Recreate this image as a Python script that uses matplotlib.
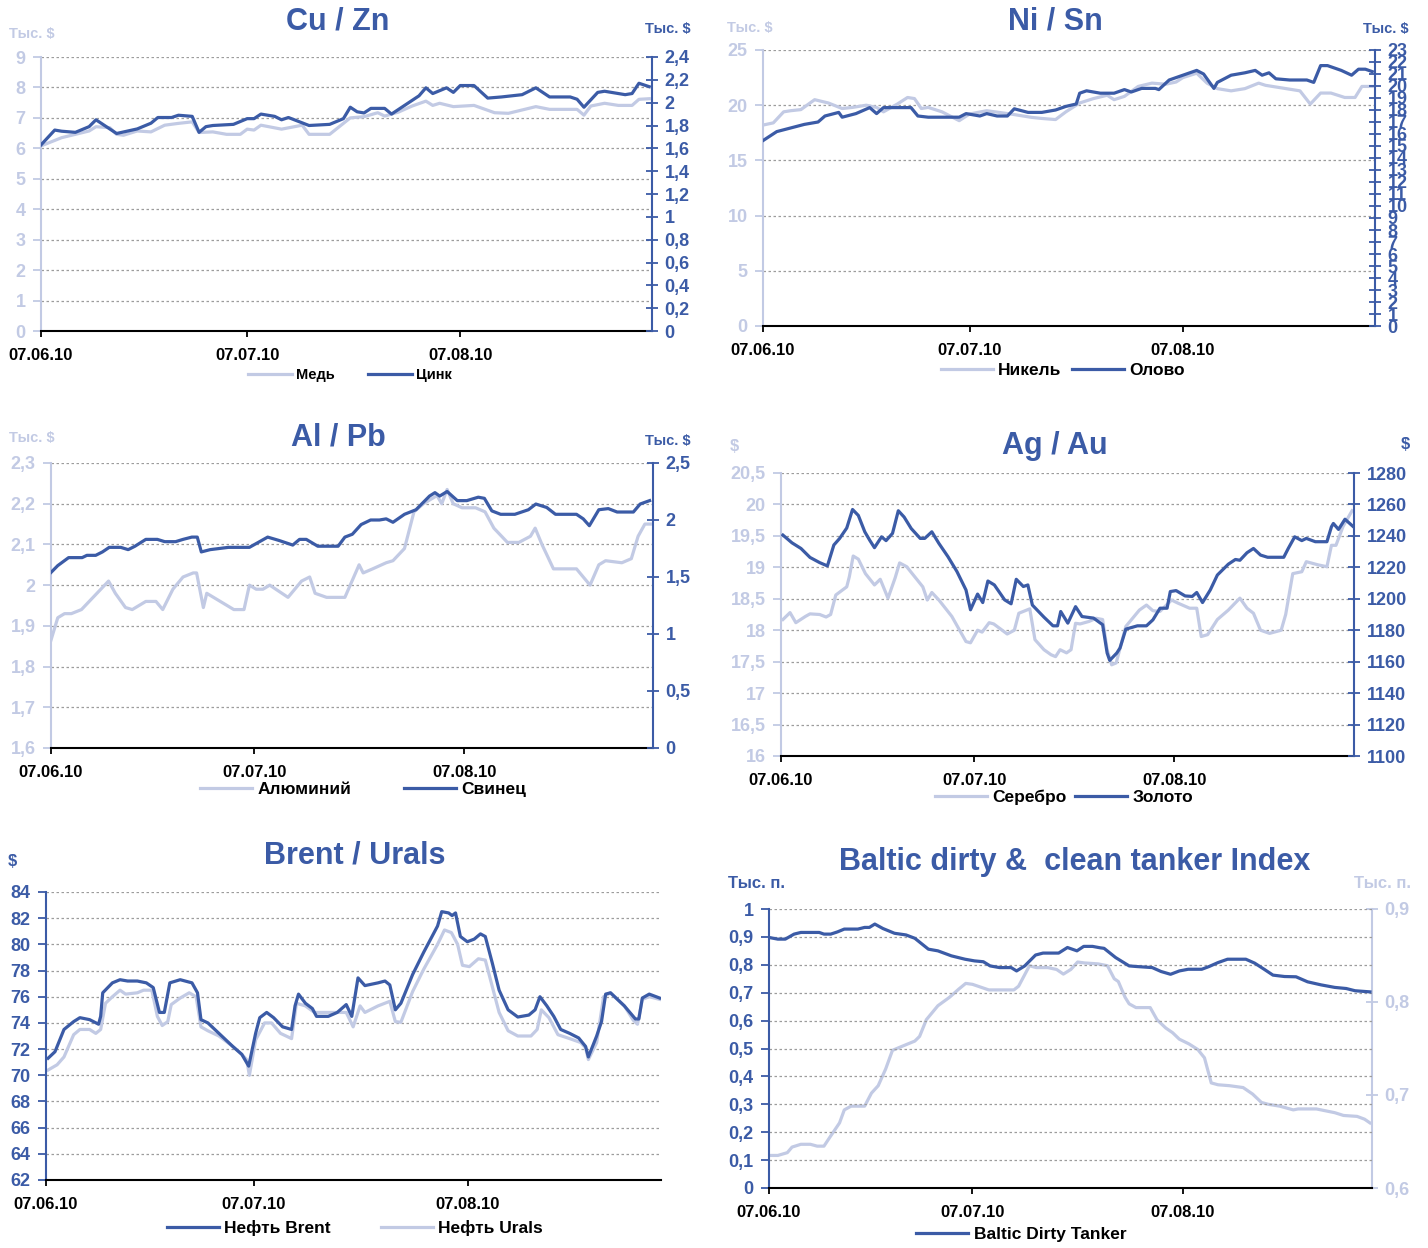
"""
Metals, oil and tanker index dashboard (07.06.10 - 03.09.10)
Six small dual-axis line charts in one figure
"""

import pandas as pd
import matplotlib
matplotlib.use('Agg')
import matplotlib.pyplot as plt
import matplotlib.dates as mdates
from matplotlib.ticker import FuncFormatter

plt.rcParams['font.family'] = ['Liberation Sans', 'DejaVu Sans']
plt.rcParams['font.weight'] = 'bold'

DARK = '#3b5ba6'
LIGHT = '#c2cae4'
GRID = '#9c9c9c'
W, H = 1428, 1248

START = pd.Timestamp('2010-06-07')
TICK_DATES = ['2010-06-07', '2010-07-07', '2010-08-07']

# ---- Cu / Zn (thousand $), days since 07.06.10 ----
cu_days = [0, 3, 5, 7, 8, 10, 11, 12, 14, 16, 18, 20, 22, 23, 25, 27, 29, 30, 31, 32,
           35, 38, 39, 42, 45, 47, 49, 50, 52, 54, 56, 57, 58, 60, 63, 66, 68, 72, 74, 78,
           79, 80, 82, 84, 86, 87, 88.5]
cu = [6.08, 6.35, 6.46, 6.57, 6.71, 6.68, 6.46, 6.43, 6.57, 6.54, 6.76, 6.82, 6.87, 6.52, 6.54,
      6.46, 6.46, 6.63, 6.60, 6.76, 6.63, 6.76, 6.46, 6.46, 7.0, 7.04, 7.17, 7.06, 7.19, 7.39,
      7.55, 7.41, 7.48, 7.37, 7.41, 7.17, 7.15, 7.37, 7.28, 7.28, 7.09, 7.39, 7.48, 7.41, 7.41,
      7.61, 7.63]
zn_days = [0, 2, 3, 5, 7, 8, 10, 11, 14, 16, 17, 19, 20, 22, 23, 24, 25, 28, 30, 31,
           32, 34, 35, 36, 39, 42, 44, 45, 46, 47, 48, 50, 51, 53, 55, 56, 57, 59, 60, 61,
           63, 65, 67, 70, 72, 74, 77, 78, 79, 81, 82, 85, 86, 87, 88.5]
zn = [1.63, 1.76, 1.75, 1.74, 1.79, 1.85, 1.77, 1.73, 1.77, 1.82, 1.87, 1.87, 1.89, 1.88, 1.74,
      1.79, 1.80, 1.81, 1.86, 1.86, 1.90, 1.88, 1.85, 1.87, 1.80, 1.81, 1.86, 1.96, 1.92, 1.91,
      1.95, 1.95, 1.90, 1.98, 2.06, 2.13, 2.08, 2.13, 2.09, 2.15, 2.15, 2.04, 2.05, 2.07, 2.13,
      2.05, 2.05, 2.03, 1.96, 2.09, 2.10, 2.07, 2.08, 2.17, 2.14]

# ---- Ni / Sn (thousand $) ----
ni_days = [0, 1.5, 3, 4, 5.5, 7.5, 9.5, 11.5, 13, 15, 16.5, 17.5, 19.5, 21, 22, 23, 24, 26,
           28.5, 30, 32.5, 36, 39, 40.5, 42.5, 44, 46, 48, 50, 51, 52.5, 54.5, 56.5, 58.5, 60,
           61, 63, 64.5, 66, 68, 70, 72, 73, 75, 78, 79.5, 81, 82.5, 84.5, 86, 87, 88.5]
ni = [18.2, 18.4, 19.4, 19.5, 19.6, 20.5, 20.2, 19.7, 19.8, 20.0, 19.8, 19.4, 20.1, 20.7, 20.6,
      19.7, 19.8, 19.4, 18.6, 19.2, 19.5, 19.2, 18.9, 18.8, 18.7, 19.4, 20.2, 20.6, 20.9, 20.5,
      20.8, 21.7, 22.0, 21.9, 22.1, 22.5, 22.9, 22.0, 21.5, 21.3, 21.5, 22.0, 21.8, 21.6, 21.3,
      20.1, 21.1, 21.1, 20.7, 20.7, 21.7, 21.7]
sn_days = [0, 2, 4, 6, 8, 9, 11, 11.5, 13.5, 15.5, 16.5, 17.5, 21.5, 22.5, 24, 28.5, 29.5,
           31.5, 32.5, 34, 35.5, 36.5, 38.5, 40.5, 42.5, 44, 45.5, 46, 47, 49, 51, 52.5, 53.5,
           55, 57, 57.5, 59, 61, 63, 64, 65.5, 66, 68, 70, 71.5, 72.5, 73.5, 74.5, 76.5, 79,
           80, 81, 82, 84, 85.5, 86.5, 87.5, 88.5]
sn = [15.45, 16.2, 16.5, 16.8, 17.0, 17.5, 17.8, 17.4, 17.7, 18.2, 17.7, 18.2, 18.2, 17.5, 17.4,
      17.4, 17.7, 17.5, 17.7, 17.5, 17.5, 18.1, 17.8, 17.8, 18.0, 18.3, 18.5, 19.4, 19.6, 19.4,
      19.4, 19.7, 19.5, 19.8, 19.8, 19.7, 20.5, 20.9, 21.3, 21.0, 19.8, 20.3, 20.9, 21.1, 21.3,
      20.9, 21.1, 20.6, 20.5, 20.5, 20.3, 21.7, 21.7, 21.3, 20.9, 21.4, 21.4, 21.2]

# ---- Al / Pb (thousand $) ----
al_days = [0, 1, 2, 3, 4.5, 8.5, 9.5, 11, 12, 14, 15.5, 16.5, 18, 19.5, 21, 21.5, 22.5, 23,
           25, 27, 28.5, 29.3, 30.3, 31.3, 32.3, 35, 37, 38.2, 39, 40.7, 43.4, 45.5, 46.1,
           47.5, 49.5, 50.5, 52.2, 53.6, 55, 57, 57.7, 58.5, 59.4, 60.7, 62.7, 64.1, 65.4,
           67.4, 69.1, 70.8, 71.5, 72.5, 74.2, 77.6, 79.6, 80.9, 81.9, 84.3, 85.7, 86.7, 87.7, 88.5]
al = [1.865, 1.92, 1.93, 1.93, 1.94, 2.01, 1.98, 1.945, 1.94, 1.96, 1.96, 1.94, 1.99, 2.02,
      2.03, 2.03, 1.945, 1.98, 1.96, 1.94, 1.94, 2.0, 1.99, 1.99, 2.0, 1.97, 2.01, 2.02, 1.98,
      1.97, 1.97, 2.05, 2.03, 2.04, 2.055, 2.06, 2.09, 2.18, 2.2, 2.22, 2.20, 2.235, 2.2, 2.19,
      2.19, 2.18, 2.14, 2.105, 2.105, 2.12, 2.14, 2.10, 2.04, 2.04, 2.0, 2.05, 2.06, 2.055,
      2.065, 2.12, 2.15, 2.15]
pb_days = [0, 1, 2.6, 4.6, 5.3, 6.6, 7.6, 8.6, 10.3, 11.4, 12.4, 14, 15.7, 16.8, 18.4, 19.5,
           20.8, 21.6, 22.2, 23.5, 26.2, 29.3, 32, 33.7, 35.7, 36.7, 37.7, 39.4, 42.4, 43.4,
           44.5, 45.8, 47.2, 48.5, 49.5, 50.5, 52.2, 53.9, 55.9, 56.7, 57.4, 58.5, 60, 61.4,
           63.1, 64, 65.1, 66.4, 68.5, 70.5, 71.6, 73.2, 74.5, 77.6, 78.6, 79.5, 80.9, 82.3,
           83.6, 86, 87, 88.4]
pb = [1.54, 1.60, 1.67, 1.67, 1.69, 1.69, 1.72, 1.76, 1.76, 1.74, 1.77, 1.83, 1.83, 1.81,
      1.81, 1.83, 1.85, 1.85, 1.72, 1.74, 1.76, 1.76, 1.85, 1.82, 1.78, 1.83, 1.83, 1.77, 1.77,
      1.85, 1.875, 1.96, 2.0, 2.0, 2.01, 1.98, 2.05, 2.09, 2.21, 2.24, 2.21, 2.25, 2.17, 2.17,
      2.20, 2.19, 2.08, 2.05, 2.05, 2.09, 2.14, 2.11, 2.05, 2.05, 2.01, 1.95, 2.09, 2.10, 2.07,
      2.07, 2.14, 2.17]

# ---- Ag / Au ($) ----
ag_days = [0.3, 1.4, 2.3, 3.8, 4.5, 6, 7, 7.7, 8.5, 10.2, 10.6, 11.2, 12, 13.1, 14.5, 15.4,
           16.6, 17.7, 18.4, 19.5, 22, 22.7, 23.4, 24.5, 26.5, 28.7, 29.4, 30.5, 31.2, 32.3,
           33, 35.1, 36.2, 36.9, 38.6, 39.4, 40.8, 41.9, 42.6, 43.3, 44.3, 45, 45.7, 46.4,
           47.8, 48.9, 49.9, 50.6, 51.3, 52, 53.5, 55.6, 56.7, 57.7, 58.8, 59.9, 60.6, 61.6,
           63.4, 64.5, 65.2, 66.2, 67.7, 69.4, 71.2, 72.3, 73.3, 74.4, 75.8, 77.6, 78.3, 79.4,
           80.8, 81.5, 83.3, 84.7, 85.4, 86.1, 87.2, 88.6]
ag = [18.17, 18.28, 18.12, 18.22, 18.26, 18.25, 18.21, 18.25, 18.56, 18.69, 18.85, 19.18,
      19.13, 18.9, 18.72, 18.81, 18.51, 18.83, 19.07, 19.01, 18.69, 18.48, 18.6, 18.48, 18.22,
      17.82, 17.8, 18.0, 17.97, 18.12, 18.1, 17.94, 18.0, 18.27, 18.34, 17.85, 17.69, 17.61,
      17.58, 17.69, 17.64, 17.69, 18.11, 18.1, 18.14, 18.19, 18.17, 17.69, 17.45, 17.48, 18.06,
      18.32, 18.4, 18.31, 18.3, 18.41, 18.48, 18.43, 18.35, 18.35, 17.9, 17.93, 18.17, 18.32,
      18.51, 18.35, 18.27, 18.0, 17.95, 18.0, 18.25, 18.9, 18.93, 19.09, 19.04, 19.01, 19.35,
      19.35, 19.65, 19.9]
au_days = [0.3, 1.7, 3.1, 4.5, 6, 7.2, 8.2, 9.1, 10.2, 11.1, 12, 13, 13.8, 14.5, 15.6, 16.3,
           17.3, 18.2, 19.1, 20.2, 21.6, 22.3, 23.4, 24.5, 25.9, 27.3, 28.7, 29.4, 30.5, 31.3,
           32.1, 33.1, 34.7, 35.7, 36.5, 37.6, 38.3, 39, 40.8, 42.2, 42.9, 43.4, 44.5, 45.7,
           46.7, 48.5, 49.9, 50.6, 51, 52.1, 52.6, 53.5, 55.3, 56.7, 57.7, 58.8, 59.9, 60.4,
           61.3, 62.7, 63.8, 64.5, 65.4, 66.6, 67.7, 69.4, 70.5, 71.2, 72.3, 73.3, 74.4, 75.5,
           78, 78.7, 79.7, 80.8, 81.5, 82.9, 84.7, 85.4, 85.7, 86.5, 87.5, 88.7]
au = [1240.5, 1235.6, 1232, 1226.3, 1223, 1220.9, 1234.2, 1238.4, 1245, 1256.8, 1253, 1242.6,
      1237, 1232.5, 1239.4, 1237, 1241.6, 1256, 1252, 1244.7, 1238.4, 1238.4, 1242.6, 1235.2,
      1226.8, 1217.3, 1205.6, 1193, 1203, 1197.6, 1211.3, 1208.8, 1199.3, 1196.8, 1212.4,
      1207.8, 1208.8, 1196, 1188.3, 1182.8, 1182.8, 1191.9, 1184.5, 1195, 1188.7, 1187.7,
      1183.5, 1165.5, 1160.8, 1165.5, 1168.7, 1180.7, 1182.8, 1182.8, 1186.6, 1194, 1194,
      1204.6, 1205.2, 1201.8, 1201.5, 1204, 1197.6, 1205.6, 1215.1, 1222, 1225, 1224.5,
      1229.3, 1232, 1227.8, 1226.4, 1226.4, 1232, 1239.4, 1237, 1238.4, 1236.3, 1236.3,
      1245.8, 1247.9, 1244.1, 1250.6, 1246.2]

# ---- Brent / Urals ($) ----
brent_days = [0.3, 1.3, 2.6, 4, 4.9, 6.3, 7.6, 7.9, 8.2, 9.6, 10.7, 11.8, 13.2, 14.5, 15.5,
              16.4, 17.1, 17.9, 19.4, 21.1, 21.9, 22.4, 23.4, 25, 27, 28.3, 29.3, 30.3, 30.9,
              31.9, 32.9, 34.2, 35.5, 36, 36.5, 37.5, 38.5, 39.1, 40.8, 42.1, 43.4, 44.2, 45.1,
              46.1, 48, 49, 49.7, 50.5, 51.3, 53, 54.6, 56.6, 57.2, 58.2, 58.7, 59.2, 59.9,
              60.9, 61.9, 62.8, 63.5, 64.5, 65.5, 66.8, 68.2, 69.8, 70.7, 71.4, 72.4, 73.4,
              74.4, 75.7, 77, 78, 78.4, 79.6, 80.3, 80.9, 81.6, 83.6, 85.2, 85.7, 86.2, 87.2, 88.7]
brent = [71.3, 71.8, 73.5, 74.1, 74.4, 74.25, 73.9, 74.5, 76.3, 77.06, 77.3, 77.2, 77.2, 77.06,
         76.7, 74.8, 74.8, 77.06, 77.3, 77.06, 76.3, 74.25, 74.0, 73.2, 72.2, 71.6, 70.7, 73.2,
         74.4, 74.8, 74.4, 73.7, 73.5, 75.3, 76.2, 75.5, 75.1, 74.5, 74.5, 74.8, 75.4, 74.5,
         77.44, 76.85, 77.06, 77.2, 76.9, 75.0, 75.5, 77.7, 79.4, 81.4, 82.5, 82.4, 82.2, 82.4,
         80.6, 80.2, 80.4, 80.8, 80.6, 78.6, 76.5, 75.0, 74.45, 74.6, 75.0, 76.0, 75.3, 74.5,
         73.5, 73.2, 72.85, 72.2, 71.4, 73.0, 74.1, 76.2, 76.3, 75.3, 74.3, 74.3, 75.9, 76.2, 75.9]
urals_days = [0.3, 1.6, 2.6, 4, 4.9, 6.3, 7.2, 7.9, 8.6, 9.6, 10.7, 11.5, 13.2, 14.1, 15.3,
              16.1, 16.8, 17.6, 18.1, 19.4, 20.7, 21.7, 22.4, 23.4, 25, 27, 28.3, 29, 29.4,
              30.3, 31.6, 32.6, 33.9, 35.5, 36.2, 37.5, 38.8, 43.4, 44.4, 45.4, 46.1, 48, 49.7,
              50.5, 51.3, 53, 54.6, 56.6, 57.6, 58.6, 59.5, 60.2, 61.2, 62.5, 63.5, 64.5, 65.5,
              66.8, 68.2, 70.1, 71, 71.6, 72.7, 74, 75.7, 77.3, 78, 78.4, 79.6, 80.6, 81.6,
              83.6, 84.9, 85.5, 86.2, 87.2, 88.7]
urals = [70.4, 70.8, 71.4, 73.1, 73.5, 73.5, 73.2, 73.5, 75.5, 76.0, 76.5, 76.2, 76.3, 76.5,
         76.5, 74.5, 73.8, 74.1, 75.4, 75.9, 76.3, 76.0, 73.7, 73.4, 73.0, 72.2, 71.6, 71.2,
         70.0, 72.7, 74.0, 74.0, 73.2, 72.8, 75.5, 75.3, 74.8, 74.8, 73.7, 75.3, 74.8, 75.3,
         75.65, 74.1, 74.05, 76.4, 78.1, 80.0, 81.1, 80.9, 80.0, 78.4, 78.3, 78.9, 78.8, 76.8,
         74.8, 73.4, 73.0, 73.0, 73.5, 75.0, 74.4, 73.1, 72.8, 72.5, 72.1, 71.2, 72.5, 76.0,
         76.3, 75.3, 74.2, 73.9, 75.8, 76.0, 75.8]

# ---- Baltic dirty / clean tanker index (thousand points) ----
dirty_days = [0, 1.3, 2.4, 3.7, 4.7, 7.4, 8.1, 9.1, 10.1, 11.1, 13.1, 14.1, 14.8, 15.6, 16.8,
              18.5, 20.2, 21.5, 23.5, 24.9, 26.9, 28.9, 30.3, 31.6, 32.6, 34, 35.7, 36.5, 37.7,
              39.3, 40.4, 42.7, 44, 45.4, 46.4, 47.7, 48.8, 49.4, 51.1, 53.1, 54.1, 56.5, 57.8,
              59.2, 60.5, 61.8, 63.8, 64.9, 66.2, 67.6, 70.3, 71.6, 73, 74.3, 76, 77.7, 79.4,
              81.4, 83.4, 85.1, 86.4, 88.6]
dirty = [0.898, 0.892, 0.892, 0.91, 0.916, 0.916, 0.91, 0.91, 0.918, 0.928, 0.928, 0.934, 0.934,
         0.946, 0.93, 0.913, 0.907, 0.895, 0.856, 0.85, 0.832, 0.82, 0.814, 0.811, 0.796, 0.79,
         0.79, 0.778, 0.796, 0.835, 0.842, 0.842, 0.862, 0.85, 0.866, 0.866, 0.861, 0.859, 0.826,
         0.796, 0.794, 0.79, 0.776, 0.766, 0.778, 0.784, 0.784, 0.794, 0.808, 0.82, 0.82, 0.806,
         0.784, 0.763, 0.758, 0.757, 0.739, 0.728, 0.719, 0.715, 0.707, 0.703]
clean_days = [0, 1.3, 2.7, 3.4, 4.7, 6.1, 7.1, 8.1, 9.1, 10.4, 11.1, 12.1, 14.1, 15.1, 16.1,
              17.2, 18.2, 19.5, 21.5, 22.2, 23.2, 24.9, 26.6, 28, 29, 30, 32.4, 36.1, 36.8,
              38.4, 39.4, 41.1, 42.4, 43.4, 44.5, 45.5, 46.5, 48.5, 49.9, 50.9, 51.5, 52.5,
              53.1, 54.1, 56.2, 57.2, 58.5, 59.5, 60.5, 61.9, 63.2, 64.2, 65.2, 66.2, 67.9,
              69.9, 71.3, 72.6, 73.6, 75.3, 77.3, 78, 80.7, 83.4, 84.7, 86.7, 87.8, 88.6]
clean = [0.635, 0.635, 0.638, 0.644, 0.647, 0.647, 0.645, 0.645, 0.656, 0.670, 0.684, 0.688,
         0.688, 0.702, 0.71, 0.728, 0.748, 0.752, 0.758, 0.763, 0.781, 0.796, 0.805, 0.814, 0.82,
         0.819, 0.813, 0.813, 0.817, 0.839, 0.837, 0.837, 0.835, 0.83, 0.835, 0.843, 0.842,
         0.841, 0.839, 0.825, 0.822, 0.805, 0.798, 0.794, 0.794, 0.781, 0.772, 0.767, 0.76,
         0.755, 0.749, 0.74, 0.713, 0.711, 0.71, 0.708, 0.701, 0.692, 0.69, 0.688, 0.684, 0.685,
         0.685, 0.681, 0.678, 0.677, 0.674, 0.670]


def dates(days):
    return START + pd.to_timedelta(days, unit='D')


def px(x, y):
    """pixel position -> figure fraction"""
    return x / W, 1 - y / H


def add_axes(fig, l, t, r, b):
    return fig.add_axes([l / W, 1 - b / H, (r - l) / W, (b - t) / H])


comma = FuncFormatter(lambda v, p: f'{round(v, 3):g}'.replace('.', ','))


def frange(lo, hi, step):
    n = int(round((hi - lo) / step))
    return [lo + i * step for i in range(n + 1)]


def setup_left(ax, color, lo, hi, step):
    ax.set_xlim(START, START + pd.Timedelta(days=88.9))
    ax.set_ylim(lo, hi)
    ax.set_yticks(frange(lo, hi, step))
    ax.yaxis.set_major_formatter(comma)
    ax.grid(axis='y', color=GRID, linestyle=(0, (2, 2)), linewidth=0.9)
    ax.set_axisbelow(True)
    for s in ['top', 'right']:
        ax.spines[s].set_visible(False)
    ax.spines['left'].set_color(color)
    ax.spines['left'].set_linewidth(1.5)
    ax.spines['bottom'].set_color('black')
    ax.spines['bottom'].set_linewidth(1.5)
    ax.tick_params(axis='y', colors=color, labelsize=13, length=6, width=1.3, pad=5)
    ax.set_xticks(pd.to_datetime(TICK_DATES))
    ax.xaxis.set_major_formatter(mdates.DateFormatter('%d.%m.%y'))
    ax.tick_params(axis='x', labelsize=12, length=4, width=1.3, pad=8,
                   color='black', labelcolor='black')


def setup_right(ax, color, lo, hi, step):
    ax2 = ax.twinx()
    ax2.set_ylim(lo, hi)
    ax2.set_yticks(frange(lo, hi, step))
    ax2.yaxis.set_major_formatter(comma)
    for s in ['top', 'left', 'bottom']:
        ax2.spines[s].set_visible(False)
    ax2.spines['right'].set_color(color)
    ax2.spines['right'].set_linewidth(1.5)
    ax2.tick_params(axis='y', colors=color, labelsize=13, length=8, width=1.3,
                    direction='inout', pad=5)
    return ax2


def label(fig, x, y, text, color, size=10.5):
    fig.text(*px(x, y), text, color=color, fontsize=size, ha='center', va='center',
             fontweight='bold')


def title(fig, x, y, text):
    fig.text(*px(x, y), text, color=DARK, fontsize=22, ha='center', va='center',
             fontweight='bold')


def legend(fig, handles, x, y, size=12.5, colsp=1.0, ncol=2, loc='center'):
    fig.legend(handles=handles, loc=loc, bbox_to_anchor=px(x, y), ncol=ncol,
               frameon=False, fontsize=size, handlelength=3.0, handletextpad=0.3,
               columnspacing=colsp, borderaxespad=0, borderpad=0)


def main():
    fig = plt.figure(figsize=(W / 100, H / 100), dpi=100)
    lw = 2.3

    # Cu / Zn
    ax = add_axes(fig, 41, 57, 652, 331)
    setup_left(ax, LIGHT, 0, 9, 1)
    ax2 = setup_right(ax, DARK, 0, 2.4, 0.2)
    l1, = ax.plot(dates(cu_days), cu, color=LIGHT, lw=lw, label='Медь')
    l2, = ax2.plot(dates(zn_days), zn, color=DARK, lw=lw, label='Цинк')
    title(fig, 338, 22, 'Cu / Zn')
    label(fig, 32, 34, 'Тыс. $', LIGHT)
    label(fig, 668, 29, 'Тыс. $', DARK)
    legend(fig, [l1, l2], 350, 375, size=10.5, colsp=2.3)

    # Ni / Sn
    ax = add_axes(fig, 763, 50, 1375, 326)
    setup_left(ax, LIGHT, 0, 25, 5)
    ax2 = setup_right(ax, DARK, 0, 23, 1)
    l1, = ax.plot(dates(ni_days), ni, color=LIGHT, lw=lw, label='Никель')
    l2, = ax2.plot(dates(sn_days), sn, color=DARK, lw=lw, label='Олово')
    title(fig, 1055, 22, 'Ni / Sn')
    label(fig, 750, 28, 'Тыс. $', LIGHT)
    label(fig, 1386, 29, 'Тыс. $', DARK)
    legend(fig, [l1, l2], 1063, 370, colsp=0.6)

    # Al / Pb
    ax = add_axes(fig, 51, 463, 653, 748)
    setup_left(ax, LIGHT, 1.6, 2.3, 0.1)
    ax2 = setup_right(ax, DARK, 0, 2.5, 0.5)
    l1, = ax.plot(dates(al_days), al, color=LIGHT, lw=lw, label='Алюминий')
    l2, = ax2.plot(dates(pb_days), pb, color=DARK, lw=lw, label='Свинец')
    title(fig, 338, 438, 'Al / Pb')
    label(fig, 32, 438, 'Тыс. $', LIGHT)
    label(fig, 668, 441, 'Тыс. $', DARK)
    legend(fig, [l1, l2], 363, 789, colsp=3.0)

    # Ag / Au
    ax = add_axes(fig, 781, 473, 1354, 756)
    setup_left(ax, LIGHT, 16, 20.5, 0.5)
    ax2 = setup_right(ax, DARK, 1100, 1280, 20)
    l1, = ax.plot(dates(ag_days), ag, color=LIGHT, lw=lw, label='Серебро')
    l2, = ax2.plot(dates(au_days), au, color=DARK, lw=lw, label='Золото')
    title(fig, 1055, 446, 'Ag / Au')
    label(fig, 734, 446, '$', LIGHT, size=12)
    label(fig, 1405, 444, '$', DARK, size=12)
    legend(fig, [l1, l2], 1064, 797, colsp=0.5)

    # Brent / Urals
    ax = add_axes(fig, 46, 892, 661, 1180)
    setup_left(ax, DARK, 62, 84, 2)
    l2, = ax.plot(dates(urals_days), urals, color=LIGHT, lw=lw, label='Нефть Urals')
    l1, = ax.plot(dates(brent_days), brent, color=DARK, lw=lw, label='Нефть Brent')
    title(fig, 355, 855, 'Brent / Urals')
    label(fig, 12, 862, '$', DARK, size=12)
    legend(fig, [l1, l2], 355, 1228, colsp=2.9)

    # Baltic dirty & clean tanker index
    ax = add_axes(fig, 769, 909, 1372, 1188)
    setup_left(ax, DARK, 0, 1, 0.1)
    ax2 = setup_right(ax, LIGHT, 0.6, 0.9, 0.1)
    ax.set_zorder(ax2.get_zorder() + 1)
    ax.patch.set_visible(False)
    l1, = ax.plot(dates(dirty_days), dirty, color=DARK, lw=lw, label='Baltic Dirty Tanker')
    l2, = ax2.plot(dates(clean_days), clean, color=LIGHT, lw=lw, label='Baltic Clean Tanker')
    title(fig, 1075, 862, 'Baltic dirty &  clean tanker Index')
    label(fig, 757, 884, 'Тыс. п.', DARK, size=12)
    label(fig, 1382, 884, 'Тыс. п.', LIGHT, size=12)
    legend(fig, [l1, l2], 1025, 1227, ncol=1, loc='upper center')

    fig.savefig('out.png', dpi=100)


if __name__ == '__main__':
    main()
